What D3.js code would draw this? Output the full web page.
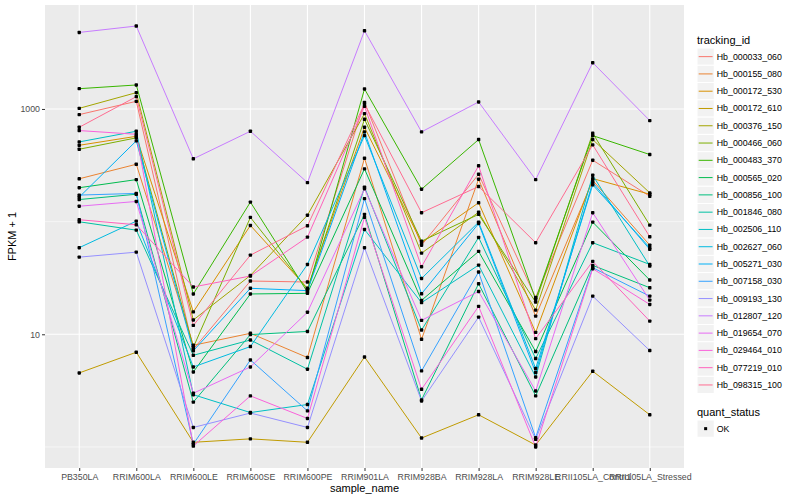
<!DOCTYPE html>
<html>
<head>
<meta charset="utf-8">
<script src="https://cdn.jsdelivr.net/npm/d3@7/dist/d3.min.js"></script>
<style>
  body { margin: 0; background: #fff; }
  text { font-family: "Liberation Sans", Arial, Helvetica, sans-serif; }
</style>
</head>
<body>
<svg id="chart" width="800" height="500"></svg>
<script>
// categories on the x axis
var samples = ['PB350LA', 'RRIM600LA', 'RRIM600LE', 'RRIM600SE', 'RRIM600PE', 'RRIM901LA',
  'RRIM928BA', 'RRIM928LA', 'RRIM928LE', 'RRII105LA_Control', 'RRII105LA_Stressed'];

var trackingIds = ['Hb_000033_060', 'Hb_000155_080', 'Hb_000172_530', 'Hb_000172_610', 'Hb_000376_150',
  'Hb_000466_060', 'Hb_000483_370', 'Hb_000565_020', 'Hb_000856_100', 'Hb_001846_080',
  'Hb_002506_110', 'Hb_002627_060', 'Hb_005271_030', 'Hb_007158_030', 'Hb_009193_130',
  'Hb_012807_120', 'Hb_019654_070', 'Hb_029464_010', 'Hb_077219_010', 'Hb_098315_100'];

// FPKM + 1 per sample
var hb000033_060 = [891, 1169, 7.36, 29.7, 29.1, 1145, 61.8, 263, 21.2, 351, 168];
var hb000155_080 = [240, 323, 7.99, 10.2, 6.22, 365, 9.03, 238, 14.5, 232, 61.8];
var hb000172_530 = [476, 572, 15.8, 92.5, 25.6, 688, 65.0, 147, 10.4, 241, 175];
var hb000172_610 = [4.54, 6.93, 1.10, 1.18, 1.10, 6.29, 1.20, 1.93, 1.04, 4.70, 1.93];
var hb000376_150 = [1013, 1396, 13.4, 33.3, 114, 909, 52.5, 121, 16.4, 535, 180];
var hb000466_060 = [439, 554, 7.67, 109, 25.1, 810, 67.1, 116, 19.3, 608, 93.1];
var hb000483_370 = [1514, 1633, 22.8, 149, 23.7, 1505, 194, 535, 20.4, 580, 394];
var hb000565_020 = [200, 236, 4.63, 22.8, 23.1, 294, 20.0, 54.4, 7.03, 98.9, 30.3];
var hb000856_100 = [157, 175, 2.50, 9.94, 10.6, 116, 2.62, 28.1, 2.84, 40.9, 25.9];
var hb001846_080 = [99.7, 84.0, 6.51, 8.90, 4.90, 202, 10.9, 72.4, 6.09, 65.0, 41.7];
var hb002506_110 = [510, 634, 2.91, 2.02, 2.38, 85.2, 19.1, 41.1, 4.18, 258, 40.3];
var hb002627_060 = [58.7, 101, 5.13, 7.78, 41.7, 580, 31.3, 98.9, 4.97, 212, 58.7];
var hb005271_030 = [165, 521, 7.14, 25.6, 24.4, 626, 22.9, 96.3, 4.58, 222, 56.7];
var hb007158_030 = [172, 178, 1.06, 5.92, 2.09, 160, 4.73, 35.7, 1.21, 39.0, 21.8];
var hb009193_130 = [48.4, 53.6, 1.49, 2.00, 1.49, 58.7, 2.56, 14.2, 1.17, 21.8, 7.17];
var hb012807_120 = [4779, 5445, 361, 634, 222, 4946, 626, 1154, 236, 2575, 788];
var hb019654_070 = [137, 151, 3.00, 5.13, 15.7, 196, 13.3, 24.0, 3.14, 120, 20.1];
var hb029464_010 = [643, 596, 1.02, 2.84, 1.79, 109, 3.25, 17.7, 1.00, 38.2, 18.4];
var hb077219_010 = [104, 93.8, 26.3, 32.9, 72.8, 1055, 39.8, 313, 9.16, 44.4, 13.1];
var hb098315_100 = [688, 1286, 12.0, 50.4, 91.9, 1109, 120, 205, 65.0, 480, 73.4];

var seriesValues = [hb000033_060, hb000155_080, hb000172_530, hb000172_610, hb000376_150,
  hb000466_060, hb000483_370, hb000565_020, hb000856_100, hb001846_080,
  hb002506_110, hb002627_060, hb005271_030, hb007158_030, hb009193_130,
  hb012807_120, hb019654_070, hb029464_010, hb077219_010, hb098315_100];

var yTicks = [10, 1000];
var yMinor = [1, 100, 10000];

// default ggplot hue palette for 20 levels
var colors = ['#F8766D', '#EA8331', '#D89000', '#C09B00', '#A3A500', '#7CAE00', '#39B600', '#00BB4E',
  '#00BF7D', '#00C1A3', '#00BFC4', '#00BAE0', '#00B0F6', '#35A2FF', '#9590FF', '#C77CFF',
  '#E76BF3', '#FA62DB', '#FF62BC', '#FF6C91'];

var series = trackingIds.map(function(id, i) {
  return { id: id, color: colors[i], values: seriesValues[i] };
});

var panel = { left: 45, top: 5, right: 684, bottom: 468 };
var svg = d3.select('#chart');

// log10 range with the usual 5% padding
var allVals = [].concat.apply([], seriesValues);
var lo = Math.log10(d3.min(allVals)), hi = Math.log10(d3.max(allVals));
var pad = (hi - lo) * 0.05;

var x = d3.scalePoint()
  .domain(samples)
  .range([panel.left, panel.right])
  .padding(0.6);

var y = d3.scaleLog()
  .domain([Math.pow(10, lo - pad), Math.pow(10, hi + pad)])
  .range([panel.bottom, panel.top]);

svg.append('rect')
  .attr('x', panel.left).attr('y', panel.top)
  .attr('width', panel.right - panel.left).attr('height', panel.bottom - panel.top)
  .attr('fill', '#EBEBEB');

var dom = y.domain();
var grid = svg.append('g');
grid.selectAll('.minor')
  .data(yMinor.filter(function(v) { return v > dom[0] && v < dom[1]; }))
  .enter().append('line')
  .attr('x1', panel.left).attr('x2', panel.right)
  .attr('y1', function(d) { return y(d); }).attr('y2', function(d) { return y(d); })
  .attr('stroke', '#fff').attr('stroke-width', 0.55);
grid.selectAll('.major')
  .data(yTicks)
  .enter().append('line')
  .attr('x1', panel.left).attr('x2', panel.right)
  .attr('y1', function(d) { return y(d); }).attr('y2', function(d) { return y(d); })
  .attr('stroke', '#fff').attr('stroke-width', 1.1);
grid.selectAll('.vert')
  .data(samples)
  .enter().append('line')
  .attr('x1', function(d) { return x(d); }).attr('x2', function(d) { return x(d); })
  .attr('y1', panel.top).attr('y2', panel.bottom)
  .attr('stroke', '#fff').attr('stroke-width', 1.1);

// lines
var line = d3.line()
  .x(function(d, i) { return x(samples[i]); })
  .y(function(d) { return y(d); });

svg.append('g').selectAll('path')
  .data(series)
  .enter().append('path')
  .attr('d', function(s) { return line(s.values); })
  .attr('fill', 'none')
  .attr('stroke', function(s) { return s.color; })
  .attr('stroke-width', 1);

// points (all quant_status OK)
var pts = [];
series.forEach(function(s) {
  s.values.forEach(function(v, i) { pts.push({ x: samples[i], v: v }); });
});
svg.append('g').selectAll('rect')
  .data(pts)
  .enter().append('rect')
  .attr('x', function(d) { return x(d.x) - 1.7; })
  .attr('y', function(d) { return y(d.v) - 1.7; })
  .attr('width', 3.4).attr('height', 3.4)
  .attr('rx', 0.8)
  .attr('fill', '#000');

// axes
var yAxis = svg.append('g')
  .attr('transform', 'translate(' + panel.left + ',0)')
  .call(d3.axisLeft(y).tickValues(yTicks).tickFormat(d3.format('d')).tickSize(3).tickPadding(2));
var xAxis = svg.append('g')
  .attr('transform', 'translate(0,' + panel.bottom + ')')
  .call(d3.axisBottom(x).tickSize(3).tickPadding(3));

[yAxis, xAxis].forEach(function(ax) {
  ax.select('.domain').remove();
  ax.selectAll('line').attr('stroke', '#333').attr('stroke-width', 1);
  ax.selectAll('text').attr('fill', '#4D4D4D').style('font-size', '8.8px');
});

svg.append('text')
  .attr('x', (panel.left + panel.right) / 2).attr('y', 492)
  .attr('text-anchor', 'middle')
  .style('font-size', '11px')
  .text('sample_name');

svg.append('text')
  .attr('transform', 'translate(16,' + (panel.top + panel.bottom) / 2 + ') rotate(-90)')
  .attr('text-anchor', 'middle')
  .style('font-size', '11px')
  .text('FPKM + 1');

// legends
var key = 17.28;
var legend = svg.append('g').attr('transform', 'translate(697,0)');
legend.append('text').attr('x', 0).attr('y', 44).style('font-size', '11px').text('tracking_id');

var items = legend.selectAll('.item')
  .data(series)
  .enter().append('g')
  .attr('transform', function(d, i) { return 'translate(0,' + (48 + i * key) + ')'; });
items.append('rect')
  .attr('width', key).attr('height', key)
  .attr('fill', '#F2F2F2').attr('stroke', '#fff');
items.append('line')
  .attr('x1', 1.7).attr('x2', key - 1.7)
  .attr('y1', key / 2).attr('y2', key / 2)
  .attr('stroke', function(d) { return d.color; })
  .attr('stroke-width', 1);
items.append('text')
  .attr('x', key + 2.5).attr('y', key / 2 + 3)
  .style('font-size', '8.8px')
  .text(function(d) { return d.id; });

legend.append('text').attr('x', 0).attr('y', 416).style('font-size', '11px').text('quant_status');
var ok = legend.append('g').attr('transform', 'translate(0,420)');
ok.append('rect').attr('width', key).attr('height', key).attr('fill', '#F2F2F2').attr('stroke', '#fff');
ok.append('rect').attr('x', key / 2 - 1.5).attr('y', key / 2 - 1.5).attr('width', 3).attr('height', 3).attr('fill', '#000');
ok.append('text').attr('x', key + 2.5).attr('y', key / 2 + 3).style('font-size', '8.8px').text('OK');
</script>
</body>
</html>
